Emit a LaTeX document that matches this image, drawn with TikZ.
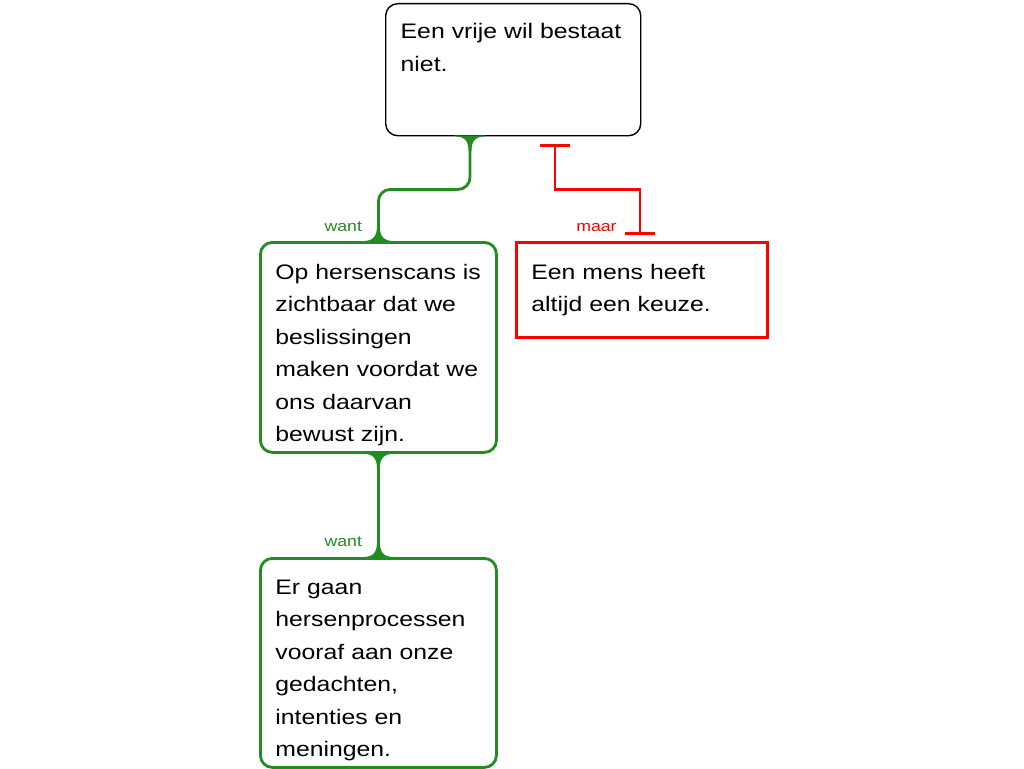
\documentclass[tikz,border=0pt]{standalone}
\usepackage{fontspec}
\setmainfont{Liberation Sans}[FakeStretch=1.18]
\usetikzlibrary{arrows.meta}

\definecolor{wantgreen}{RGB}{34,139,34}
\definecolor{maarred}{RGB}{255,0,0}

\tikzset{
  claim/.style={draw, rounded corners=12pt, line width=1.4pt, align=left,
    anchor=north west, inner xsep=15pt, inner ysep=0pt,
    font=\fontsize{21}{32.5}\selectfont},
  reason/.style={claim, draw=wantgreen, line width=2.8pt},
  objection/.style={claim, draw=maarred, line width=2.8pt, sharp corners},
  want/.style={draw=wantgreen, line width=2.8pt, rounded corners=12pt},
  maar/.style={draw=maarred, line width=2.8pt, sharp corners,
    {Bar[width=30pt,sep=5pt]Bar[width=0pt,sep=5pt]}-{Bar[width=0pt,sep=5pt]Bar[width=30pt,sep=5pt]},
    shorten <=3pt, shorten >=1pt},
  conlbl/.style={anchor=base east, inner sep=0pt, font=\fontsize{15}{18}\selectfont},
  flare/.pic={\fill[wantgreen] (-15,-1) -- (-15,0) .. controls (-5,0) and (-1.4,5) .. (-1.4,15)
    -- (1.4,15) .. controls (1.4,5) and (5,0) .. (15,0) -- (15,-1) -- cycle;}
}

\begin{document}
\begin{tikzpicture}[x=1pt, y=-1pt]
 \useasboundingbox (0,0) rectangle (1024,768);

 % claims
 \node (vrij) [claim, text width=225pt, text height=35pt, text depth=97pt] at (385,3)
   {Een vrije wil bestaat\\niet.};
 \node (scans) [reason, text width=206pt, text height=37pt, text depth=173pt] at (259,241)
   {Op hersenscans is\\zichtbaar dat we\\beslissingen\\maken voordat we\\ons daarvan\\bewust zijn.};
 \node (proces) [reason, text width=206pt, text height=36pt, text depth=173pt] at (259,557)
   {Er gaan\\hersenprocessen\\vooraf aan onze\\gedachten,\\intenties en\\meningen.};
 \node (mens) [objection, text width=221pt, text height=37pt, text depth=58pt] at (515,241)
   {Een mens heeft\\altijd een keuze.};

 % want
 \draw [want] (vrij.south -| 470,0) -- ++(0,53) -| (scans.north)
   node [conlbl, text=wantgreen, at end, xshift=-15pt, yshift=10pt] {want};
 \draw [want] (scans.south) -- (proces.north)
   node [conlbl, text=wantgreen, at end, xshift=-15pt, yshift=11pt] {want};
 \path (vrij.south -| 470,0) pic {flare};
 \path (scans.north) pic [yscale=-1] {flare};
 \path (scans.south) pic {flare};
 \path (proces.north) pic [yscale=-1] {flare};

 % maar
 \draw [maar] (vrij.south -| 555,0) -- ++(0,53) -| (mens.north -| 640,0)
   node [conlbl, text=maarred, at end, xshift=-22pt, yshift=10pt] {maar};
\end{tikzpicture}
\end{document}
